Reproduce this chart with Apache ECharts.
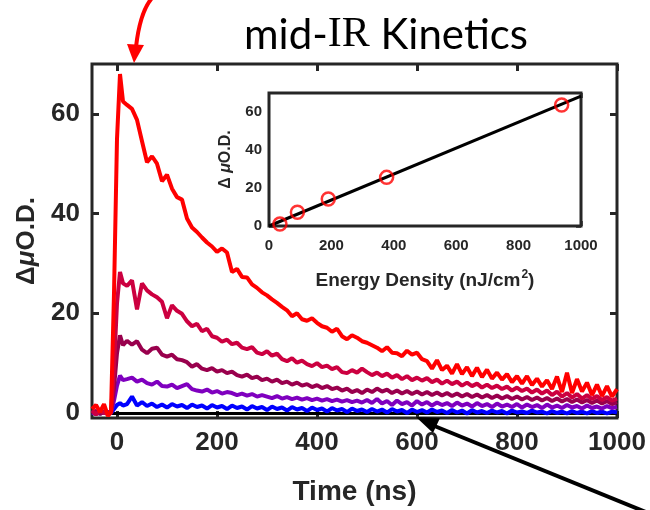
<!DOCTYPE html>
<html>
<head>
<meta charset="utf-8">
<script src="https://cdn.jsdelivr.net/npm/echarts@6/dist/echarts.min.js"></script>
<style>html,body{margin:0;padding:0;background:#fff}#c{width:650px;height:510px}</style>
</head>
<body>
<div id="c"></div>
<script>
// ---- main panel: transient kinetics ----
const time = [-50,-42,-34,-26,-18,-12,-6,0,6,12,
20,30,40,50,60,70,80,90,100,110,
120,130,140,150,160,170,180,190,200,210,
220,230,240,250,260,270,280,290,300,310,
320,330,340,350,360,370,380,390,400,410,
420,430,440,450,460,470,480,490,500,510,
520,530,540,550,560,570,580,590,600,610,
620,630,640,650,660,670,680,690,700,710,
720,730,740,750,760,770,780,790,800,810,
820,830,840,850,860,870,880,890,900,910,
920,930,940,950,960,970,980,990,1000];

const traceRed = [0.8,1.6,0.2,1.8,-0.6,0.3,24,55,68,62.5,
61.8,61,58.8,54.5,50.3,51.5,50,46.5,47.8,45,
43.3,42.8,39,37.2,36.3,35.2,34.2,33.4,32.3,33,
32.2,28.3,28.9,27.3,27.2,25.8,25.1,24.2,23.6,22.8,
22.1,21.3,20.6,19.4,20,18.8,18.5,19,18.1,17.4,
17.1,16.3,16.9,15.4,14.8,15.6,15.1,14.4,14.1,13.6,
13.1,12.4,13.2,12.1,12,11.4,12.5,11.7,12.1,10.8,
10.4,8.9,10.6,8.6,9.5,7.9,9.8,7.8,9.2,7.4,
9.1,7.2,8.7,6.9,8.1,6.7,7.8,6.2,7.4,5.9,
7.4,5.6,6.9,5.3,6.6,4.8,7.3,4.2,8.1,4.0,
6.8,4.3,6.1,3.6,5.7,3.4,5.4,3.3,4.8];

const traceCrimson = [0.5,-0.3,0.4,0.1,-0.2,0,9,22,28.3,26,
25.5,26.6,20.8,26,24.6,23.8,23.2,22.3,19,21.6,
20.5,19.9,18.4,17.4,17.9,16.4,16.9,15.4,15.1,14.3,
14.7,13.8,14.1,13.1,12.8,13.2,12.1,11.8,12.4,11.5,
11.9,10.8,10.4,11,10.1,10.5,9.8,9.4,10,9.2,
9.5,8.8,9.2,8.2,8,8.6,8.1,8.9,8.2,7.6,
8.1,7.4,7.9,7.1,7.6,6.8,7.4,6.6,7.1,6.5,
7,6.2,6.7,5.9,6.5,5.8,6.3,5.5,6.1,5.4,
5.9,5.1,5.7,5,5.5,4.8,5.3,4.5,5.1,4.4,
4.9,4.1,4.7,3.9,4.5,3.6,4.3,3.3,4,3.1,
3.8,2.9,3.6,2.8,3.4,2.6,3.2,2.5,2.9];

const traceMagenta = [0.2,0.4,-0.2,0.3,0.1,0,5,12,15.6,13.6,
14.5,13.7,14.4,12.7,12,12.9,13.1,11.7,11.3,11.7,
10.8,10.6,10.2,9.3,9.8,8.9,8.6,9,8.3,8.6,
8,8.3,7.6,7.3,7.7,7,7.3,6.6,6.9,6.3,
6.7,6,6.3,5.7,6.1,5.5,5.8,5.2,5.6,5,
5.4,4.8,5.1,4.5,4.9,4.2,4.6,4,4.7,4.2,
4.9,4.3,4.7,4,4.5,3.9,4.4,3.8,4.3,3.7,
4.2,3.6,4.1,3.5,4,3.4,3.9,3.3,3.8,3.2,
3.7,3.1,3.6,3,3.5,2.9,3.4,2.8,3.3,2.7,
3.2,2.6,3.1,2.5,3,2.4,2.9,2.3,2.8,2.2,
2.7,2.1,2.6,2,2.5,1.9,2.4,1.8,2.2];

const tracePurple = [0.1,-0.2,0.3,0,0.2,0,2.5,5.5,7.5,6.6,
6.8,7.1,6.3,6.7,6,5.7,6.3,5.4,5.3,5.7,
5,5.4,5.8,4.8,4.5,4.3,4.7,4.1,4.4,3.9,
4.2,4,3.6,3.9,3.5,3.8,3.3,3.6,3.3,3,
3.4,2.9,3.2,2.8,3.1,2.7,3,2.6,2.9,2.5,
2.8,2.4,2.7,2.3,2.6,2.2,2.5,2.1,2.6,2,
2.8,1.9,2.4,1.6,2.5,1.8,2.2,1.5,2.4,1.7,
2.2,1.5,2.1,1.6,2,1.4,2.1,1.5,1.9,1.3,
2,1.4,1.8,1.2,1.9,1.3,1.7,1.2,1.8,1.1,
1.7,1.2,1.6,1,1.7,1.1,1.5,1,1.6,1.1,
1.4,0.9,1.5,1,1.3,0.9,1.4,1,1.2];

const traceBlue = [0,0.2,-0.1,0.1,0,0,0.8,1.6,2,1.5,
1.8,3.3,1.5,2.2,1.4,1.9,1.2,1.7,1.1,1.8,
1.3,1.6,1,1.7,1.2,1.5,0.9,1.6,1.1,1.4,
0.8,1.5,1,1.3,0.7,1.4,0.9,1.2,0.6,1.3,
0.8,1.1,0.5,1.2,0.7,1,0.4,1.1,0.6,0.9,
0.3,1,0.5,0.8,0.2,0.9,0.4,0.7,0.2,0.8,
0.3,0.7,0.1,0.8,0.3,0.6,0,0.7,0.2,0.6,
0.1,0.7,0.2,0.5,0,0.6,0.1,0.5,-0.1,0.6,
0.1,0.4,0,0.5,0.1,0.4,-0.1,0.5,0.1,0.3,
0,0.5,0.1,0.3,-0.1,0.4,0,0.3,-0.1,0.4,
0,0.3,-0.1,0.4,0,0.3,-0.1,0.3,0.1];

const timeTicks = [0,200,400,600,800,1000];
const odTicks = [0,20,40,60];

// ---- inset: amplitude vs energy density ----
const energyDensity = [35,91,190,377,938];
const peakAmplitude = [1,7.2,14.2,25.6,63.7];
const fitEnergy = [0,1000];
const fitAmplitude = [0,68.4];
const energyTicks = [0,200,400,600,800,1000];
const insetTicks = [0,20,40,60];

const traceNames = ['trace1','trace2','trace3','trace4','trace5'];
const traceColors = ['#0000ff','#7f00bf','#99004d','#cc0040','#ff0000'];
const traceValues = [traceBlue,tracePurple,traceMagenta,traceCrimson,traceRed];

const INK = '#262626';
const FONT = 'Liberation Sans';

function tick(vals, len, w){ return {show:true, inside:true, length:len, customValues:vals, lineStyle:{color:INK, width:w}}; }
function lab(vals, size, margin){ return {show:true, customValues:vals, fontSize:size, fontWeight:'bold', color:INK, fontFamily:FONT, margin:margin, formatter:(v)=>String(v)}; }
const noLine = {show:false, onZero:false};

const series = traceValues.map((vals, k) => ({
  name: traceNames[k], type:'line', xAxisIndex:0, yAxisIndex:0,
  data: time.map((t,i)=>[t, vals[i]]),
  showSymbol:false, symbol:'none', smooth:false,
  lineStyle:{color:traceColors[k], width:4},
  z: 3 + k,
  markLine: k === 0 ? {silent:true, symbol:['none','none'], label:{show:false},
    lineStyle:{color:'#000', width:3, type:'solid'}, data:[{yAxis:0}], z:1} : undefined
}));

series.push({
  name:'fit', type:'line', xAxisIndex:2, yAxisIndex:2,
  data: fitEnergy.map((e,i)=>[e, fitAmplitude[i]]),
  showSymbol:false, symbol:'none', lineStyle:{color:'#000', width:3}, z:10
});
series.push({
  name:'amp', type:'scatter', xAxisIndex:2, yAxisIndex:2,
  data: energyDensity.map((e,i)=>[e, peakAmplitude[i]]),
  symbol:'circle', symbolSize:13,
  itemStyle:{color:'rgba(0,0,0,0)', borderColor:'#ff0000', borderWidth:2.5}, z:11
});

const option = {
  animation:false,
  backgroundColor:'#fff',
  grid:[
    {left:92, top:64, width:525, height:354, show:true, borderWidth:3, borderColor:INK, backgroundColor:'rgba(0,0,0,0)', containLabel:false, outerBoundsMode:'none'},
    {left:269, top:93, width:312, height:133, show:true, borderWidth:3, borderColor:INK, backgroundColor:'#fff', z:5, containLabel:false, outerBoundsMode:'none'}
  ],
  xAxis:[
    {gridIndex:0, type:'value', min:-50, max:1000, position:'bottom', axisLine:noLine, splitLine:{show:false},
     axisTick:tick(timeTicks,7,3), axisLabel:lab(timeTicks,26,12),
     name:'Time (ns)', nameLocation:'middle', nameGap:60, nameMoveOverlap:false,
     nameTextStyle:{fontSize:28, fontWeight:'bold', color:INK, fontFamily:FONT}},
    {gridIndex:0, type:'value', min:-50, max:1000, position:'top', axisLine:noLine, splitLine:{show:false},
     axisTick:tick(timeTicks,7,3), axisLabel:{show:false}},
    {gridIndex:1, type:'value', min:0, max:1000, position:'bottom', axisLine:noLine, splitLine:{show:false},
     axisTick:tick(energyTicks,5,2.5), axisLabel:lab(energyTicks,15,12),
     name:'Energy Density (nJ/cm{s|2})', nameLocation:'middle', nameGap:43, nameMoveOverlap:false,
     nameTextStyle:{fontSize:19, fontWeight:'bold', color:INK, fontFamily:FONT,
       rich:{s:{fontSize:12, fontWeight:'bold', color:INK, fontFamily:FONT, padding:[0,0,11,1]}}}},
    {gridIndex:1, type:'value', min:0, max:1000, position:'top', axisLine:noLine, splitLine:{show:false},
     axisTick:tick(energyTicks,5,2.5), axisLabel:{show:false}}
  ],
  yAxis:[
    {gridIndex:0, type:'value', min:-1, max:70, position:'left', axisLine:noLine, splitLine:{show:false},
     axisTick:tick(odTicks,7,3), axisLabel:lab(odTicks,26,12),
     name:'{d|Δ}{m|μ}{d|O.D.}', nameLocation:'middle', nameGap:52, nameMoveOverlap:false,
     nameTextStyle:{fontSize:26, fontWeight:'bold', color:INK, fontFamily:FONT,
       rich:{d:{fontSize:26, fontWeight:'bold', color:INK, fontFamily:FONT},
             m:{fontSize:26, fontStyle:'italic', fontWeight:'bold', color:INK, fontFamily:FONT}}}},
    {gridIndex:0, type:'value', min:-1, max:70, position:'right', axisLine:noLine, splitLine:{show:false},
     axisTick:tick(odTicks,7,3), axisLabel:{show:false}},
    {gridIndex:1, type:'value', min:0, max:70, position:'left', axisLine:noLine, splitLine:{show:false},
     axisTick:tick(insetTicks,5,2.5), axisLabel:lab(insetTicks,15,7),
     name:'{d|Δ }{m|μ}{d|O.D.}', nameLocation:'middle', nameGap:35, nameMoveOverlap:false,
     nameTextStyle:{fontSize:16, fontWeight:'bold', color:INK, fontFamily:FONT,
       rich:{d:{fontSize:16, fontWeight:'bold', color:INK, fontFamily:FONT},
             m:{fontSize:16, fontStyle:'italic', fontWeight:'bold', color:INK, fontFamily:FONT}}}},
    {gridIndex:1, type:'value', min:0, max:70, position:'right', axisLine:noLine, splitLine:{show:false},
     axisTick:tick(insetTicks,5,2.5), axisLabel:{show:false}}
  ],
  series: series,
  graphic:[
    {type:'text', x:386, y:35, z:100,
     style:{text:'{a|mid-}{b|IR}{a| Kinetics}', align:'center', verticalAlign:'middle',
       rich:{a:{fontSize:42, fontFamily:'Lato', fill:'#000'},
             b:{fontSize:42, fontFamily:'Liberation Serif', fill:'#000'}}}},
    {type:'bezierCurve', z:100, shape:{x1:152,y1:-2,x2:136,y2:47,cpx1:140,cpy1:12},
     style:{stroke:'#ff0000', lineWidth:4, fill:null}},
    {type:'polygon', z:100, shape:{points:[[127,44],[144,45],[134,63]]}, style:{fill:'#ff0000'}},
    {type:'line', z:100, shape:{x1:658,y1:517,x2:432,y2:425}, style:{stroke:'#000', lineWidth:4}},
    {type:'polygon', z:100, shape:{points:[[416,417],[433,433],[440,418]]}, style:{fill:'#000'}}
  ]
};

const chart = echarts.init(document.getElementById('c'), null, {renderer:'canvas'});
chart.setOption(option);
</script>
</body>
</html>
